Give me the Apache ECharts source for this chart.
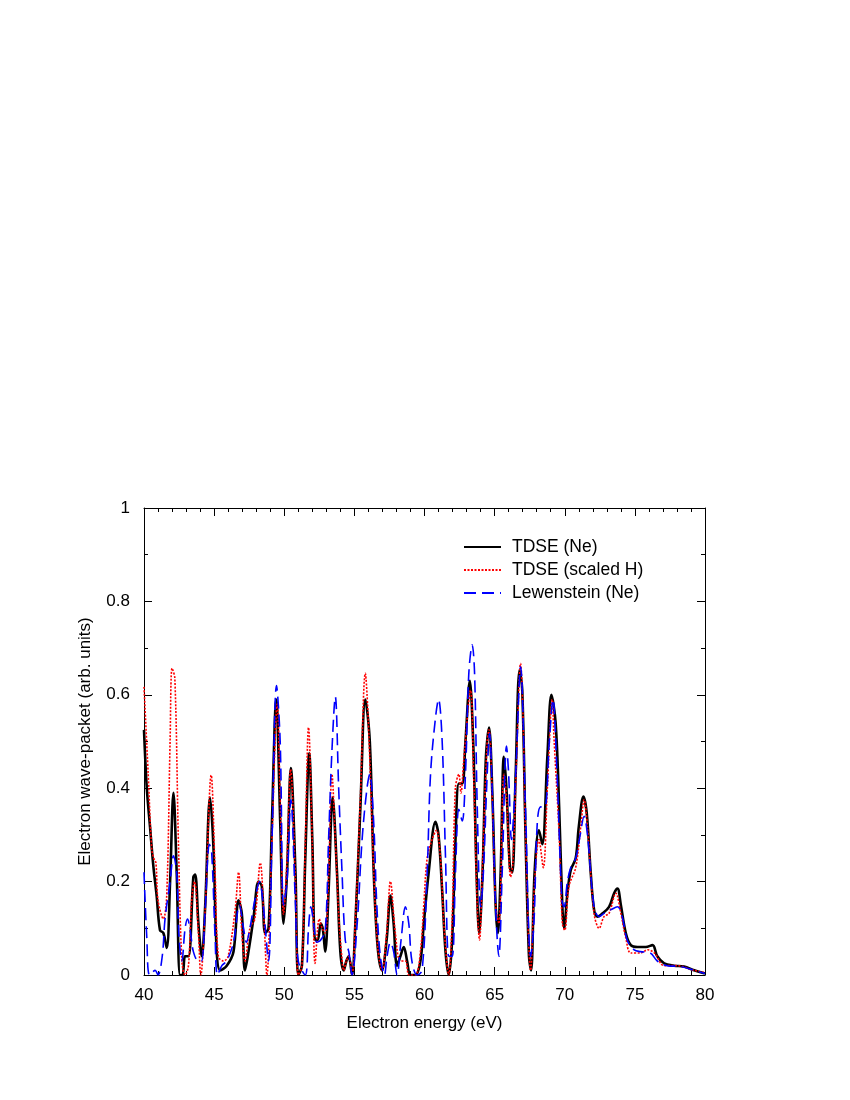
<!DOCTYPE html>
<html>
<head>
<meta charset="utf-8">
<script src="https://cdn.jsdelivr.net/npm/echarts@6/dist/echarts.min.js"></script>
<style>
  html, body { margin: 0; padding: 0; background: #fff; }
  #chart { width: 850px; height: 1100px; }
</style>
</head>
<body>
<div id="chart"></div>
<script>
// TDSE (Ne)
var neEnergy = [40.0,40.2,40.43,40.67,40.9,41.14,41.38,41.62,41.86,42.1,42.33,42.57,42.75,42.93,43.17,43.52,43.65,43.88,44.12,44.36,44.71,44.95,45.19,45.43,45.9,46.38,46.74,46.98,47.2,47.45,47.8,48.17,48.4,48.64,48.88,49.12,49.43,49.71,49.95,50.2,50.47,50.8,51.0,51.26,51.5,51.78,52.0,52.2,52.38,52.6,52.76,52.92,53.16,53.45,53.76,54.0,54.24,54.43,54.6,54.83,55.07,55.43,55.78,56.1,56.38,56.66,56.97,57.3,57.57,57.8,58.04,58.28,58.52,58.76,59.0,59.35,59.71,59.95,60.3,60.78,61.0,61.26,61.5,61.73,61.97,62.21,62.45,62.69,62.92,63.23,63.47,63.71,63.9,64.14,64.38,64.6,64.83,65.07,65.23,65.43,65.66,65.85,66.09,66.26,66.5,66.78,66.97,67.21,67.45,67.6,67.85,68.16,68.4,68.76,69.05,69.35,69.6,69.83,69.95,70.19,70.43,70.78,71.0,71.33,71.57,71.85,72.09,72.33,72.69,73.16,73.52,73.76,74.0,74.35,74.71,75.19,75.78,76.26,76.6,77.09,77.8,78.5,79.23,80.0];
var neValue = [0.525,0.40,0.317,0.232,0.17,0.096,0.09,0.058,0.20,0.39,0.22,0.0,0.0,0.04,0.04,0.21,0.215,0.11,0.04,0.146,0.38,0.275,0.047,0.01,0.02,0.05,0.16,0.13,0.01,0.05,0.12,0.20,0.19,0.09,0.10,0.325,0.59,0.33,0.11,0.22,0.443,0.22,0.0,0.02,0.25,0.475,0.29,0.075,0.075,0.11,0.096,0.05,0.18,0.38,0.22,0.05,0.01,0.03,0.04,0.0,0.11,0.36,0.59,0.5,0.22,0.06,0.01,0.075,0.17,0.11,0.02,0.04,0.06,0.03,0.0,0.0,0.03,0.11,0.22,0.328,0.30,0.18,0.05,0.0,0.075,0.29,0.41,0.41,0.50,0.63,0.50,0.22,0.09,0.22,0.467,0.53,0.395,0.15,0.09,0.22,0.467,0.395,0.23,0.22,0.43,0.653,0.61,0.29,0.04,0.01,0.22,0.31,0.28,0.467,0.60,0.54,0.36,0.146,0.10,0.175,0.225,0.25,0.317,0.382,0.346,0.22,0.14,0.125,0.132,0.146,0.175,0.185,0.15,0.09,0.064,0.06,0.06,0.064,0.04,0.025,0.02,0.018,0.01,0.003];

// TDSE (scaled H)
var hEnergy = [40.0,40.3,40.55,40.7,40.85,41.0,41.38,41.62,41.86,42.0,42.2,42.45,42.7,42.93,43.17,43.4,43.6,43.88,44.05,44.36,44.79,45.07,45.3,45.67,46.0,46.5,46.74,46.98,47.2,47.55,47.9,48.29,48.57,48.76,49.12,49.5,49.7,49.95,50.2,50.45,50.8,51.0,51.26,51.5,51.73,52.0,52.2,52.5,52.7,52.92,53.15,53.4,53.64,53.9,54.1,54.24,54.43,54.6,54.83,55.07,55.43,55.78,56.0,56.38,56.66,56.97,57.3,57.57,57.92,58.28,58.64,58.9,59.35,59.71,59.95,60.19,60.54,60.85,61.14,61.4,61.73,61.97,62.2,62.45,62.6,62.8,63.28,63.5,63.76,63.92,64.15,64.47,64.6,64.83,65.07,65.3,65.66,65.85,66.14,66.3,66.55,66.85,67.0,67.21,67.57,67.85,68.16,68.47,68.76,69.11,69.23,69.6,69.83,70.0,70.3,70.78,71.14,71.38,71.62,72.09,72.45,72.8,73.16,73.64,74.0,74.35,74.71,75.4,75.9,76.4,77.09,78.0,79.23,80.0];
var hValue = [0.617,0.43,0.27,0.25,0.24,0.16,0.12,0.17,0.50,0.657,0.635,0.29,0.03,0.0,0.02,0.16,0.20,0.09,0.0,0.14,0.428,0.22,0.04,0.03,0.04,0.14,0.22,0.09,0.03,0.10,0.12,0.24,0.11,0.0,0.29,0.58,0.39,0.13,0.25,0.44,0.20,0.0,0.02,0.28,0.53,0.28,0.025,0.12,0.10,0.09,0.20,0.43,0.29,0.12,0.04,0.01,0.03,0.04,0.0,0.12,0.38,0.646,0.54,0.22,0.06,0.01,0.09,0.20,0.09,0.03,0.03,0.0,0.0,0.05,0.15,0.25,0.29,0.31,0.25,0.10,0.0,0.12,0.40,0.43,0.39,0.46,0.61,0.43,0.146,0.075,0.25,0.50,0.525,0.38,0.15,0.11,0.43,0.38,0.21,0.24,0.45,0.667,0.58,0.29,0.01,0.20,0.29,0.23,0.40,0.59,0.51,0.30,0.11,0.096,0.19,0.23,0.317,0.375,0.317,0.132,0.10,0.125,0.132,0.175,0.132,0.08,0.047,0.047,0.054,0.047,0.02,0.02,0.01,0.005];

// Lewenstein (Ne)
var lewEnergy = [40.0,40.2,40.4,40.8,41.0,41.3,41.5,41.86,42.1,42.33,42.5,42.7,42.93,43.1,43.3,43.52,43.88,44.1,44.36,44.67,44.83,45.07,45.24,45.55,45.9,46.38,46.8,47.1,47.3,47.55,47.9,48.24,48.5,48.88,49.12,49.45,49.71,49.95,50.2,50.47,50.8,51.0,51.5,51.73,51.9,52.1,52.33,52.6,52.92,53.16,53.4,53.64,53.88,54.12,54.35,54.6,54.83,55.2,55.55,55.9,56.1,56.38,56.6,56.85,57.14,57.33,57.57,57.8,58.04,58.33,58.64,58.88,59.1,59.47,59.83,60.19,60.43,60.78,61.0,61.26,61.5,61.73,61.97,62.21,62.45,62.69,62.92,63.16,63.4,63.57,63.76,64.0,64.2,64.47,64.64,64.83,65.07,65.3,65.54,65.85,66.0,66.2,66.5,66.85,67.2,67.57,67.8,68.04,68.28,68.57,68.9,69.16,69.45,69.8,69.95,70.19,70.43,70.78,71.1,71.38,71.62,72.09,72.45,72.8,73.3,73.76,74.1,74.45,74.95,75.4,76.1,76.6,77.3,78.3,79.23,80.0];
var lewValue = [0.22,0.08,0.0,0.01,0.0,0.04,0.12,0.20,0.255,0.22,0.08,0.03,0.10,0.12,0.095,0.05,0.03,0.03,0.14,0.28,0.26,0.08,0.0,0.02,0.03,0.07,0.15,0.10,0.07,0.10,0.16,0.20,0.15,0.03,0.28,0.62,0.50,0.15,0.20,0.375,0.15,0.03,0.0,0.10,0.146,0.11,0.07,0.075,0.095,0.29,0.48,0.596,0.40,0.22,0.075,0.05,0.0,0.11,0.29,0.40,0.43,0.325,0.15,0.04,0.0,0.04,0.07,0.05,0.0,0.075,0.146,0.11,0.03,0.0,0.01,0.22,0.43,0.55,0.59,0.50,0.25,0.04,0.04,0.22,0.355,0.33,0.43,0.646,0.707,0.646,0.36,0.146,0.22,0.43,0.517,0.395,0.146,0.04,0.22,0.49,0.43,0.29,0.43,0.66,0.36,0.04,0.11,0.325,0.36,0.36,0.50,0.59,0.43,0.16,0.146,0.20,0.23,0.25,0.30,0.34,0.30,0.146,0.125,0.132,0.14,0.146,0.125,0.075,0.054,0.05,0.047,0.03,0.02,0.018,0.01,0.003];

var seriesNames = ['TDSE (Ne)', 'TDSE (scaled H)', 'Lewenstein (Ne)'];
var xTicks = [40, 80, 5];   // min, max, interval
var yTicks = [0, 1, 0.2];

function zip(xs, ys) {
  var out = [];
  for (var i = 0; i < xs.length; i++) out.push([xs[i], ys[i]]);
  return out;
}

var font = 'Liberation Sans, Arial, sans-serif';

function xAxisDef(pos, labels) {
  return {
    type: 'value', position: pos,
    min: xTicks[0], max: xTicks[1], interval: xTicks[2],
    name: labels ? 'Electron energy (eV)' : '',
    nameLocation: 'middle', nameGap: 40,
    nameTextStyle: { color: '#000', fontSize: 17, fontFamily: font },
    axisLine: { show: true, onZero: false, lineStyle: { color: '#000', width: 1 } },
    axisTick: { show: true, inside: true, length: 8, lineStyle: { color: '#000' } },
    minorTick: { show: true, splitNumber: 5, length: 4, lineStyle: { color: '#000' } },
    axisLabel: { show: labels, color: '#000', fontSize: 17, fontFamily: font, margin: 12 },
    splitLine: { show: false }
  };
}

function yAxisDef(pos, labels) {
  return {
    type: 'value', position: pos,
    min: yTicks[0], max: yTicks[1], interval: yTicks[2],
    name: labels ? 'Electron wave-packet (arb. units)' : '',
    nameLocation: 'middle', nameGap: 50,
    nameTextStyle: { color: '#000', fontSize: 17, fontFamily: font },
    axisLine: { show: true, onZero: false, lineStyle: { color: '#000', width: 1 } },
    axisTick: { show: true, inside: true, length: 8, lineStyle: { color: '#000' } },
    minorTick: { show: true, splitNumber: 2, length: 4, lineStyle: { color: '#000' } },
    axisLabel: {
      show: labels, color: '#000', fontSize: 17, fontFamily: font, margin: 14,
      formatter: function (v) { return String(Math.round(v * 10) / 10); }
    },
    splitLine: { show: false }
  };
}

var chart = echarts.init(document.getElementById('chart'), null, { renderer: 'canvas' });
chart.setOption({
  animation: false,
  backgroundColor: '#fff',
  grid: { left: 144, right: 145, top: 508, bottom: 125, containLabel: false },
  legend: {
    orient: 'vertical', left: 458, top: 533,
    itemWidth: 37, itemHeight: 16, itemGap: 5,
    itemStyle: { opacity: 0 },
    textStyle: { color: '#000', fontSize: 17.5, fontFamily: font, padding: [0, 0, 0, 6] },
    data: seriesNames
  },
  xAxis: [xAxisDef('bottom', true), xAxisDef('top', false)],
  yAxis: [yAxisDef('left', true), yAxisDef('right', false)],
  series: [
    {
      name: seriesNames[0], type: 'line', data: zip(neEnergy, neValue),
      showSymbol: false, symbol: 'none', smooth: 0.35,
      lineStyle: { color: '#000', width: 2.6 }, itemStyle: { color: '#000' }, z: 2
    },
    {
      name: seriesNames[1], type: 'line', data: zip(hEnergy, hValue),
      showSymbol: false, symbol: 'none', smooth: 0.35,
      lineStyle: { color: '#ff0000', width: 1.6, type: [2, 1.5] }, itemStyle: { color: '#ff0000' }, z: 3
    },
    {
      name: seriesNames[2], type: 'line', data: zip(lewEnergy, lewValue),
      showSymbol: false, symbol: 'none', smooth: 0.35,
      lineStyle: { color: '#0000ff', width: 1.6, type: [12, 6] }, itemStyle: { color: '#0000ff' }, z: 4
    }
  ]
});
</script>
</body>
</html>
